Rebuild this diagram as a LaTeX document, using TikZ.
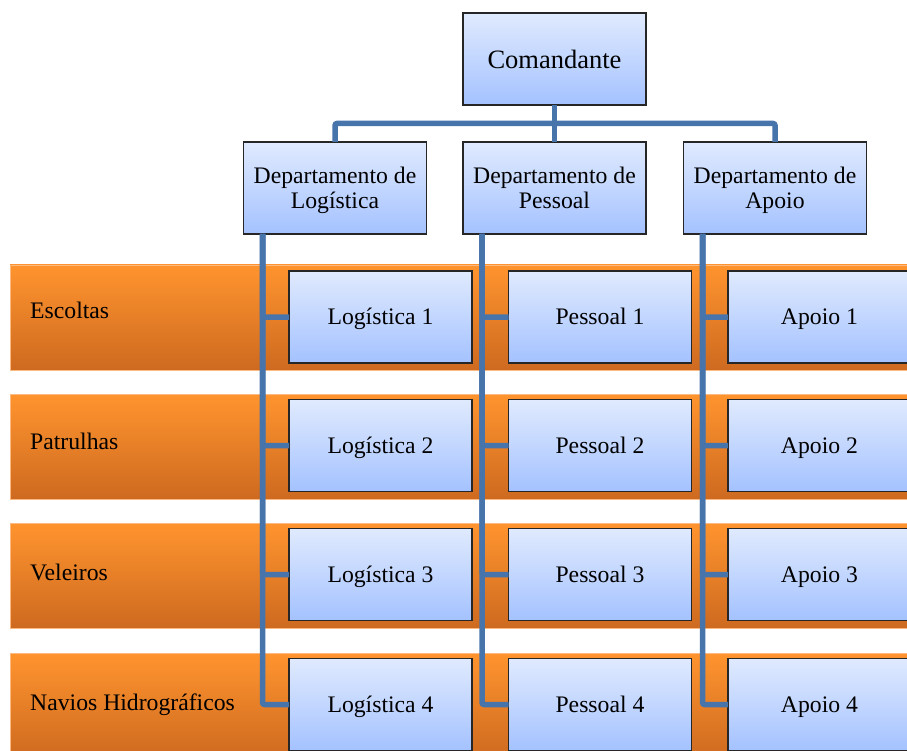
\documentclass[tikz,border=0pt]{standalone}
\usepackage{fontspec}
\setmainfont{Liberation Serif}
\usetikzlibrary{calc}

\definecolor{linkblue}{RGB}{72,116,172}
\definecolor{bandtop}{RGB}{255,148,46}
\definecolor{bandbottom}{RGB}{206,106,32}
\definecolor{bandedge}{RGB}{252,186,130}
\definecolor{boxtop}{RGB}{224,234,254}
\definecolor{boxbottom}{RGB}{164,194,255}

\tikzset{
  band/.style={anchor=north west, minimum width=905pt, minimum height=105pt,
    inner sep=0pt, outer sep=0pt, draw=bandedge, line width=0.8pt,
    top color=bandtop, bottom color=bandbottom},
  bandlabel/.style={anchor=base west, inner sep=0pt,
    font=\fontsize{23.7}{26}\selectfont},
  orgbox/.style={draw=black!85, line width=1.2pt, minimum width=183pt,
    minimum height=92pt, inner sep=0pt, outer sep=0pt,
    top color=boxtop, bottom color=boxbottom, align=center,
    font=\fontsize{23.7}{24.5}\selectfont},
  deptbox/.style={orgbox, text depth=0pt},
  unitbox/.style={orgbox, text height=17pt, text depth=1.4pt},
  link/.style={draw=linkblue, line width=5.5pt, rounded corners=2pt}
}

\begin{document}
\begin{tikzpicture}[x=1pt,y=-1pt]
\useasboundingbox (0,0) rectangle (907,751);
\clip (0,0) rectangle (907,751);

% orange bands, one per ship class
\node[band] (b1) at (10,265) {};
\node[band] (b2) at (10,394) {};
\node[band] (b3) at (10,523) {};
\node[band] (b4) at (10,653) {};

\node[bandlabel] (t1) at (30,318) {Escoltas};
\node[bandlabel] (t2) at (30,449) {Patrulhas};
\node[bandlabel] (t3) at (30,580) {Veleiros};
\node[bandlabel] (t4) at (30,710) {Navios Hidrográficos};

% top of the hierarchy
\node[orgbox, font=\fontsize{26.5}{30}\selectfont] (cmd) at (554.5,59) {Comandante};
\node[deptbox] (ld) at (335,188) {Departamento de\\Logística};
\node[deptbox] (pd) at (554.5,188) {Departamento de\\Pessoal};
\node[deptbox] (ad) at (775,188) {Departamento de\\Apoio};

% units of each department
\foreach \i/\y in {1/317,2/445.5,3/574.5,4/704.5}{
  \node[unitbox] (l\i) at (380.5,\y) {Logística \i};
  \node[unitbox] (p\i) at (600,\y) {Pessoal \i};
  \node[unitbox] (a\i) at (819.5,\y) {Apoio \i};
}

% connectors
\draw[link] (ld.north) -- ++(0,-18.5) -| (ad.north);
\draw[link] (cmd.south) -- (pd.north);
\foreach \d/\c in {ld/l,pd/p,ad/a}{
  \foreach \i in {1,2,3,4}{
    \draw[link] ($(\d.south west)+(19,0)$) |- (\c\i.west);
  }
}
\end{tikzpicture}
\end{document}
